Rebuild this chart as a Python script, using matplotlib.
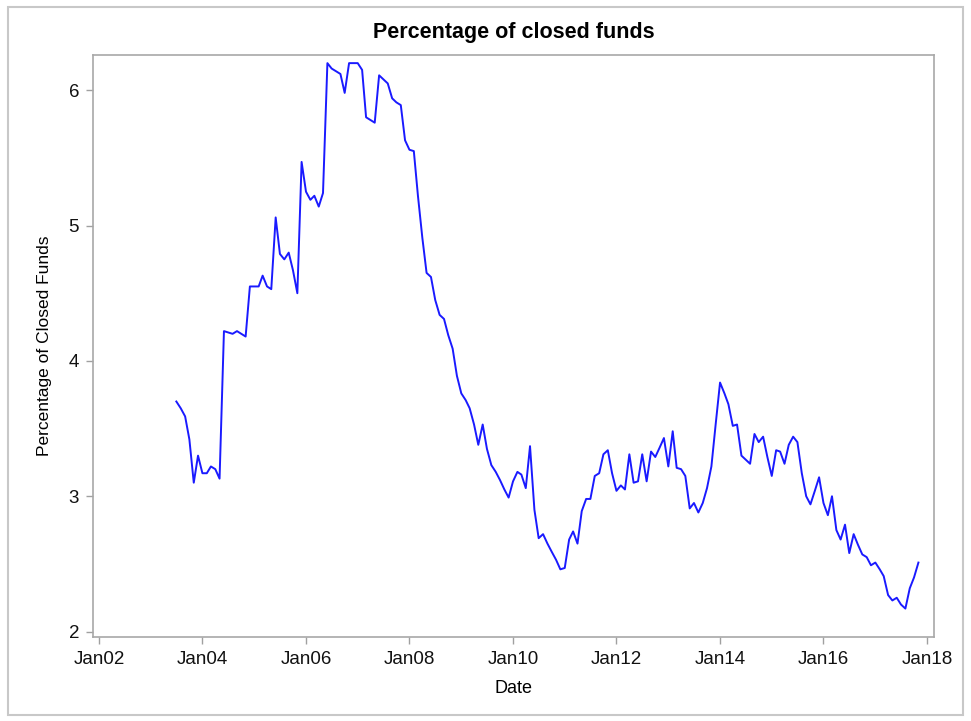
import numpy as np
import pandas as pd
import matplotlib
matplotlib.use("Agg")
import matplotlib.pyplot as plt
import matplotlib.dates as mdates
from matplotlib.patches import Rectangle

plt.rcParams['font.family'] = ['Liberation Sans', 'DejaVu Sans']

# monthly series, Jul 2003 .. Nov 2017
start_month = '2003-07-01'
pct_closed = [
    3.70, 3.65, 3.59, 3.42, 3.10, 3.30,                                # 2003
    3.17, 3.17, 3.22, 3.20, 3.13, 4.22, 4.21, 4.20, 4.22, 4.20, 4.18, 4.55,  # 2004
    4.55, 4.55, 4.63, 4.55, 4.53, 5.06, 4.79, 4.75, 4.80, 4.67, 4.50, 5.47,  # 2005
    5.25, 5.19, 5.22, 5.14, 5.24, 6.20, 6.16, 6.14, 6.12, 5.98, 6.20, 6.20,  # 2006
    6.20, 6.15, 5.80, 5.78, 5.76, 6.11, 6.08, 6.05, 5.94, 5.91, 5.89, 5.63,  # 2007
    5.56, 5.55, 5.22, 4.91, 4.65, 4.62, 4.45, 4.34, 4.31, 4.19, 4.09, 3.89,  # 2008
    3.76, 3.71, 3.65, 3.53, 3.38, 3.53, 3.35, 3.23, 3.18, 3.12, 3.05, 2.99,  # 2009
    3.11, 3.18, 3.16, 3.06, 3.37, 2.90, 2.69, 2.72, 2.65, 2.59, 2.53, 2.46,  # 2010
    2.47, 2.68, 2.74, 2.65, 2.89, 2.98, 2.98, 3.15, 3.17, 3.31, 3.34, 3.17,  # 2011
    3.04, 3.08, 3.05, 3.31, 3.10, 3.11, 3.31, 3.11, 3.33, 3.29, 3.36, 3.43,  # 2012
    3.22, 3.48, 3.21, 3.20, 3.15, 2.91, 2.95, 2.88, 2.95, 3.06, 3.22, 3.53,  # 2013
    3.84, 3.76, 3.68, 3.52, 3.53, 3.30, 3.27, 3.24, 3.46, 3.40, 3.44, 3.29,  # 2014
    3.15, 3.34, 3.33, 3.24, 3.38, 3.44, 3.40, 3.17, 3.00, 2.94, 3.04, 3.14,  # 2015
    2.95, 2.86, 3.00, 2.75, 2.68, 2.79, 2.58, 2.72, 2.64, 2.57, 2.55, 2.49,  # 2016
    2.51, 2.46, 2.41, 2.27, 2.23, 2.25, 2.20, 2.17, 2.32, 2.40, 2.51,        # 2017
]
dates = pd.date_range(start_month, periods=len(pct_closed), freq='MS')

y_ticks = [2, 3, 4, 5, 6]

fig = plt.figure(figsize=(9.71, 7.21), dpi=100)
ax = fig.add_axes([0.0958, 0.1165, 0.8661, 0.8072])

ax.plot(dates, pct_closed, color='#1a1aff', lw=1.4)

ax.set_xlim(pd.Timestamp('2001-11-20'), pd.Timestamp('2018-02-19'))
ax.set_ylim(1.96, 6.26)
ax.set_yticks(y_ticks)
ax.xaxis.set_major_locator(mdates.YearLocator(2))
ax.xaxis.set_major_formatter(mdates.DateFormatter('%b%y'))

for s in ax.spines.values():
    s.set_color('#a8a8a8')
    s.set_linewidth(1.2)
ax.tick_params(axis='both', direction='out', length=5, width=1,
               color='#a0a0a0', labelsize=13.5, labelcolor='#111111', pad=5)

ax.set_title('Percentage of closed funds', fontsize=15.5, fontweight='bold', pad=12)
ax.set_xlabel('Date', fontsize=13, labelpad=9)
ax.set_ylabel('Percentage of Closed Funds', fontsize=12.5, labelpad=12)

# outer gray border of the graph
fig.patches.append(Rectangle((0.008, 0.008), 0.984, 0.982, transform=fig.transFigure,
                             fill=False, edgecolor='#c8c8c8', lw=1.5))

fig.savefig('out.png', dpi=100, facecolor='white')
